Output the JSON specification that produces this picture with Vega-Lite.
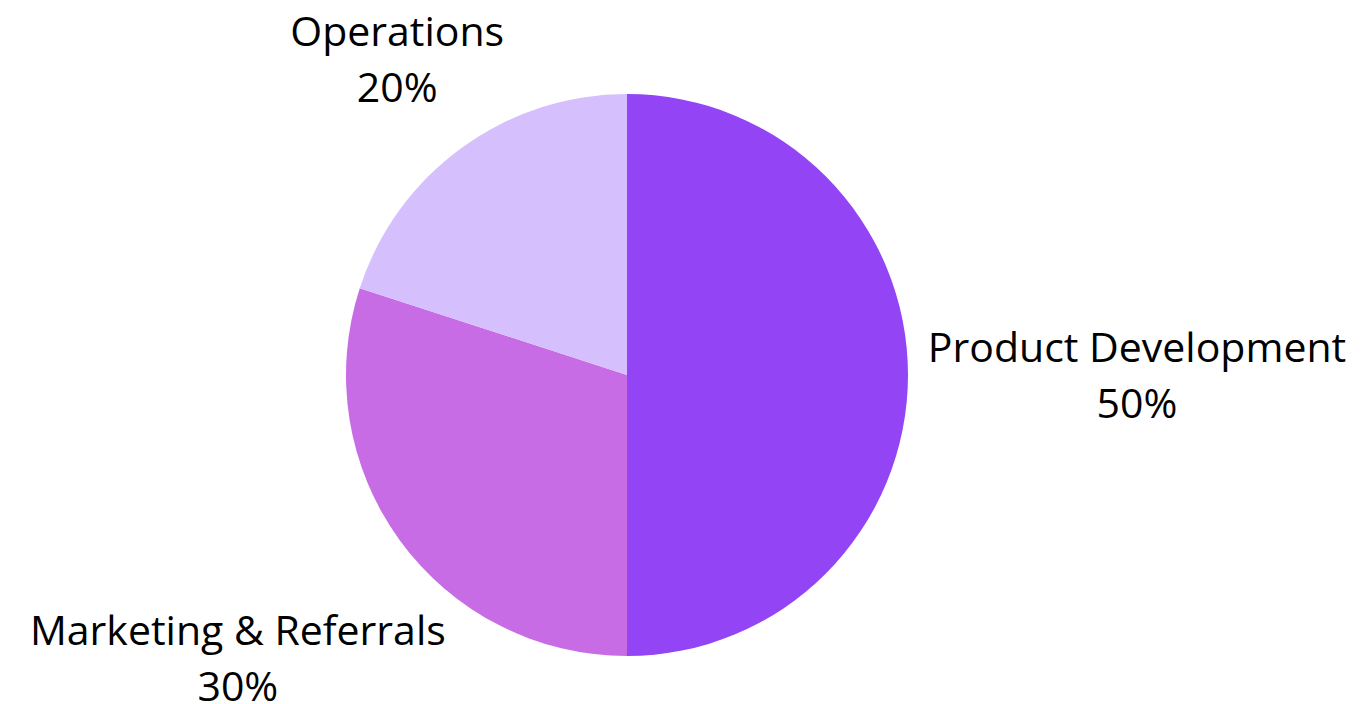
{
  "$schema": "https://vega.github.io/schema/vega-lite/v6.json",
  "autosize": {"type": "none"},
  "width": 1254,
  "height": 658,
  "padding": {"left": 0, "top": 46, "right": 111, "bottom": 0},
  "background": "white",
  "config": {"view": {"stroke": null}},
  "datasets": {
    "budget": [
      {"category": "Product Development", "value": 50},
      {"category": "Marketing & Referrals", "value": 30},
      {"category": "Operations", "value": 20}
    ]
  },
  "data": {"name": "budget"},
  "encoding": {
    "color": {
      "field": "category",
      "type": "nominal",
      "scale": {
        "domain": ["Product Development", "Marketing & Referrals", "Operations"],
        "range": ["#9345F5", "#C86CE6", "#D5BFFC"]
      },
      "legend": null
    }
  },
  "layer": [
    {
      "mark": {"type": "arc", "outerRadius": 281},
      "encoding": {
        "theta": {"field": "value", "type": "quantitative", "stack": true, "scale": {"domain": [0, 100]}},
        "order": {"field": "value", "type": "quantitative", "sort": "descending"}
      }
    },
    {
      "transform": [
        {"window": [{"op": "sum", "field": "value", "as": "cum"}], "sort": [{"field": "value", "order": "descending"}], "frame": [null, 0]},
        {"calculate": "datum.cum - datum.value / 2", "as": "mid"},
        {"calculate": "[datum.category, datum.value + '%']", "as": "label"},
        {"filter": "datum.category === 'Product Development'"}
      ],
      "mark": {"type": "text", "radius": 510, "dy": -25, "font": "Open Sans", "fontSize": 41, "lineHeight": 56, "align": "center", "baseline": "middle"},
      "encoding": {
        "theta": {"field": "mid", "type": "quantitative", "stack": null},
        "text": {"field": "label"},
        "color": {"value": "#000000"}
      }
    },
    {
      "transform": [
        {"window": [{"op": "sum", "field": "value", "as": "cum"}], "sort": [{"field": "value", "order": "descending"}], "frame": [null, 0]},
        {"calculate": "datum.cum - datum.value / 2", "as": "mid"},
        {"calculate": "[datum.category, datum.value + '%']", "as": "label"},
        {"filter": "datum.category === 'Marketing & Referrals'"}
      ],
      "mark": {"type": "text", "radius": 481, "dy": -25, "font": "Open Sans", "fontSize": 41, "lineHeight": 56, "align": "center", "baseline": "middle"},
      "encoding": {
        "theta": {"field": "mid", "type": "quantitative", "stack": null},
        "text": {"field": "label"},
        "color": {"value": "#000000"}
      }
    },
    {
      "transform": [
        {"window": [{"op": "sum", "field": "value", "as": "cum"}], "sort": [{"field": "value", "order": "descending"}], "frame": [null, 0]},
        {"calculate": "datum.cum - datum.value / 2", "as": "mid"},
        {"calculate": "[datum.category, datum.value + '%']", "as": "label"},
        {"filter": "datum.category === 'Operations'"}
      ],
      "mark": {"type": "text", "radius": 391, "dy": -25, "font": "Open Sans", "fontSize": 41, "lineHeight": 56, "align": "center", "baseline": "middle"},
      "encoding": {
        "theta": {"field": "mid", "type": "quantitative", "stack": null},
        "text": {"field": "label"},
        "color": {"value": "#000000"}
      }
    }
  ]
}
